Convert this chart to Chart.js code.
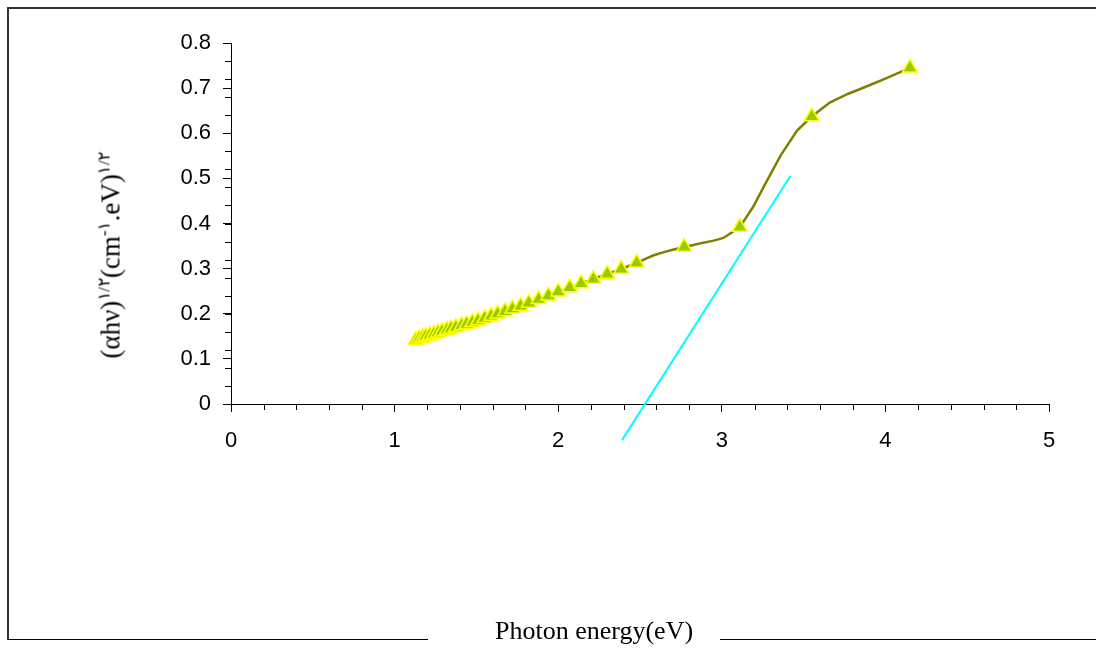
<!DOCTYPE html>
<html>
<head>
<meta charset="utf-8">
<script src="https://cdn.jsdelivr.net/npm/chart.js@4.4.1/dist/chart.umd.min.js"></script>
<style>
  html, body { margin: 0; padding: 0; background: #fff; overflow: hidden; }
  #wrap { position: relative; width: 1096px; height: 648px; overflow: hidden; }
  #c { position: absolute; left: 0; top: 0; }
  #frame { position: absolute; left: 7px; top: 7px; width: 1200px; height: 633px;
           border-left: 2px solid #333; border-top: 2px solid #333; border-bottom: 1px solid #000; box-sizing: border-box; }
  #gap { position: absolute; left: 428px; top: 634px; width: 292px; height: 12px; background: #fff; }
  #xtitle { position: absolute; left: 495px; top: 618px; font-family: "Liberation Serif", "Times New Roman", serif;
            font-size: 26px; line-height: 26px; white-space: nowrap; color: #000; }
  #ytitle { position: absolute; left: 111px; top: 255px; font-family: "Liberation Serif", "Times New Roman", serif;
            font-size: 27px; line-height: 27px; white-space: nowrap; color: #000;
            transform: translate(-50%, -50%) rotate(-90deg); }
  #ytitle sup { font-size: 17px; vertical-align: 10px; line-height: 0; }
</style>
</head>
<body>
<div id="wrap">
  <div id="frame"></div>
  <canvas id="c" width="1096" height="648"></canvas>
  <div id="gap"></div>
  <div id="xtitle">Photon energy(eV)</div>
  <div id="ytitle">(αhν)<sup>۱/۲</sup>(cm<sup>-۱</sup>.eV)<sup>۱/۲</sup></div>
</div>
<script>
// Low-energy points (line and markers)
const denseX = [1.13, 1.15, 1.17, 1.19, 1.215, 1.24, 1.265, 1.29, 1.32, 1.345, 1.375, 1.41, 1.44, 1.475, 1.51,
                1.55, 1.59, 1.63, 1.675, 1.72, 1.77, 1.82, 1.88, 1.94, 2.0, 2.07, 2.14, 2.215, 2.3, 2.385, 2.48];
const denseY = [0.142, 0.145, 0.147, 0.150, 0.152, 0.155, 0.158, 0.161, 0.164, 0.167, 0.170, 0.174, 0.177, 0.181, 0.185,
                0.190, 0.195, 0.200, 0.205, 0.211, 0.217, 0.224, 0.232, 0.240, 0.249, 0.258, 0.267, 0.277, 0.288, 0.299, 0.313];
// High-energy part of the line (no markers)
const upperLineX = [2.53, 2.58, 2.64, 2.70, 2.77, 2.82, 2.88, 2.95, 3.01, 3.11, 3.19, 3.26, 3.36, 3.46, 3.55, 3.66, 3.77, 3.88, 4.0, 4.15];
const upperLineY = [0.321, 0.329, 0.336, 0.342, 0.348, 0.352, 0.357, 0.362, 0.368, 0.392, 0.436, 0.484, 0.551, 0.606, 0.637, 0.668, 0.687, 0.703, 0.721, 0.745];
// High-energy markers
const upperMarkX = [2.77, 3.11, 3.55, 4.15];
const upperMarkY = [0.348, 0.392, 0.637, 0.745];
// Linear fit (Tauc extrapolation)
const fitX = [2.39, 3.42];
const fitY = [-0.08, 0.506];
// Axis ticks
const xTicks = [0, 1, 2, 3, 4, 5];
const yTicks = [0, 0.1, 0.2, 0.3, 0.4, 0.5, 0.6, 0.7, 0.8];

const pts = (xs, ys) => xs.map((v, i) => ({ x: v, y: ys[i] }));

const minorTicks = {
  id: 'minorTicks',
  afterDraw(chart) {
    const { ctx, scales: { x, y } } = chart;
    ctx.save();
    ctx.strokeStyle = '#000';
    ctx.lineWidth = 1;
    ctx.beginPath();
    for (let i = 1; i < 25; i++) {
      if (i % 5 === 0) continue;
      const px = Math.round(x.getPixelForValue(i * 0.2)) + 0.5;
      ctx.moveTo(px, y.bottom);
      ctx.lineTo(px, y.bottom + 6);
    }
    for (let i = 1; i <= 20; i++) {
      const py = Math.round(y.getPixelForValue(i * 0.04)) + 0.5;
      ctx.moveTo(x.left, py);
      ctx.lineTo(x.left - 6, py);
    }
    ctx.stroke();
    ctx.restore();
  }
};

const tickFont = { family: '"Liberation Sans", Arial, sans-serif', size: 22 };

new Chart(document.getElementById('c'), {
  type: 'scatter',
  data: {
    datasets: [
      {
        data: pts(denseX.concat(upperMarkX), denseY.concat(upperMarkY)),
        showLine: false,
        pointStyle: 'triangle',
        pointRadius: 8.5,
        pointHoverRadius: 8.5,
        backgroundColor: '#99CC00',
        borderColor: '#FFFF00',
        borderWidth: 1.5,
        order: 0
      },
      {
        data: pts(denseX.concat(upperLineX), denseY.concat(upperLineY)),
        showLine: true,
        pointRadius: 0,
        borderColor: '#808000',
        borderWidth: 2.5,
        tension: 0,
        order: 1
      },
      {
        data: pts(fitX, fitY),
        showLine: true,
        pointRadius: 0,
        borderColor: '#00FFFF',
        borderWidth: 2,
        clip: false,
        order: 2
      }
    ]
  },
  options: {
    responsive: false,
    animation: false,
    devicePixelRatio: 1,
    layout: { padding: { left: 0, top: 43, right: 47, bottom: 0 } },
    plugins: { legend: { display: false }, tooltip: { enabled: false } },
    scales: {
      x: {
        type: 'linear', min: 0, max: 5,
        afterBuildTicks: (s) => { s.ticks = xTicks.map(v => ({ value: v })); },
        afterFit: (s) => { s.height = 244; },
        ticks: { font: tickFont, color: '#000', padding: 16, maxRotation: 0 },
        grid: { display: true, drawOnChartArea: false, drawTicks: true, tickLength: 8, color: '#000', tickColor: '#000' },
        border: { display: true, color: '#000', width: 1 }
      },
      y: {
        type: 'linear', min: 0, max: 0.8,
        afterBuildTicks: (s) => { s.ticks = yTicks.map(v => ({ value: v })); },
        afterFit: (s) => { s.width = 231; },
        ticks: { font: tickFont, color: '#000', padding: 12 },
        grid: { display: true, drawOnChartArea: false, drawTicks: true, tickLength: 8, color: '#000', tickColor: '#000' },
        border: { display: true, color: '#000', width: 1 }
      }
    }
  },
  plugins: [minorTicks]
});
</script>
</body>
</html>
